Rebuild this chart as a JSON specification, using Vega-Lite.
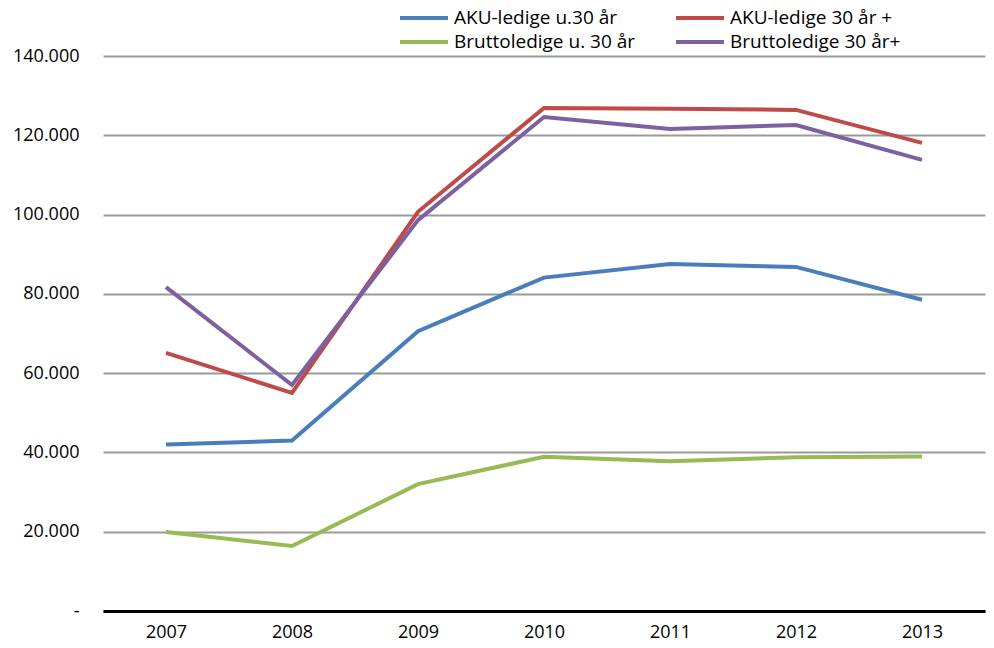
{
  "$schema": "https://vega.github.io/schema/vega-lite/v6.json",
  "width": 882,
  "height": 555,
  "autosize": {"type": "none"},
  "padding": {"left": 103, "top": 56, "right": 9, "bottom": 37},
  "config": {
    "locale": {"number": {"decimal": ",", "thousands": ".", "grouping": [3], "currency": ["", " kr"]}},
    "view": {"stroke": null},
    "font": "Open Sans"
  },
  "data": {
    "values": [
      {"year": "2007", "serie": "AKU-ledige u.30 år", "value": 42000},
      {"year": "2008", "serie": "AKU-ledige u.30 år", "value": 43000},
      {"year": "2009", "serie": "AKU-ledige u.30 år", "value": 70600},
      {"year": "2010", "serie": "AKU-ledige u.30 år", "value": 84100},
      {"year": "2011", "serie": "AKU-ledige u.30 år", "value": 87500},
      {"year": "2012", "serie": "AKU-ledige u.30 år", "value": 86800},
      {"year": "2013", "serie": "AKU-ledige u.30 år", "value": 78500},
      {"year": "2007", "serie": "AKU-ledige 30 år +", "value": 65100},
      {"year": "2008", "serie": "AKU-ledige 30 år +", "value": 55000},
      {"year": "2009", "serie": "AKU-ledige 30 år +", "value": 100700},
      {"year": "2010", "serie": "AKU-ledige 30 år +", "value": 126900},
      {"year": "2011", "serie": "AKU-ledige 30 år +", "value": 126700},
      {"year": "2012", "serie": "AKU-ledige 30 år +", "value": 126400},
      {"year": "2013", "serie": "AKU-ledige 30 år +", "value": 118100},
      {"year": "2007", "serie": "Bruttoledige u. 30 år", "value": 19900},
      {"year": "2008", "serie": "Bruttoledige u. 30 år", "value": 16400},
      {"year": "2009", "serie": "Bruttoledige u. 30 år", "value": 32000},
      {"year": "2010", "serie": "Bruttoledige u. 30 år", "value": 38900},
      {"year": "2011", "serie": "Bruttoledige u. 30 år", "value": 37800},
      {"year": "2012", "serie": "Bruttoledige u. 30 år", "value": 38800},
      {"year": "2013", "serie": "Bruttoledige u. 30 år", "value": 39000},
      {"year": "2007", "serie": "Bruttoledige 30 år+", "value": 81700},
      {"year": "2008", "serie": "Bruttoledige 30 år+", "value": 57000},
      {"year": "2009", "serie": "Bruttoledige 30 år+", "value": 98600},
      {"year": "2010", "serie": "Bruttoledige 30 år+", "value": 124600},
      {"year": "2011", "serie": "Bruttoledige 30 år+", "value": 121600},
      {"year": "2012", "serie": "Bruttoledige 30 år+", "value": 122600},
      {"year": "2013", "serie": "Bruttoledige 30 år+", "value": 113800}
    ]
  },
  "mark": {"type": "line", "strokeWidth": 4},
  "encoding": {
    "x": {
      "field": "year", "type": "ordinal",
      "scale": {"type": "point", "padding": 0.5},
      "axis": {
        "title": null, "labelAngle": 0, "ticks": false, "grid": false,
        "domainColor": "#000000", "domainWidth": 3,
        "labelFontSize": 18, "labelColor": "#000000", "labelPadding": 12
      }
    },
    "y": {
      "field": "value", "type": "quantitative",
      "scale": {"domain": [0, 140000]},
      "axis": {
        "title": null, "values": [0, 20000, 40000, 60000, 80000, 100000, 120000, 140000],
        "format": ",.0f", "labelOverlap": false,
        "labelExpr": "datum.value === 0 ? '-' : datum.label",
        "domain": false, "ticks": false,
        "gridColor": "#9a9a9a", "gridWidth": 2, "gridOpacity": 1,
        "labelFontSize": 18, "labelColor": "#000000", "labelPadding": 24
      }
    },
    "color": {
      "field": "serie", "type": "nominal",
      "scale": {
        "domain": ["AKU-ledige u.30 år", "AKU-ledige 30 år +", "Bruttoledige u. 30 år", "Bruttoledige 30 år+"],
        "range": ["#4a7ebb", "#be4b48", "#98b954", "#7d60a0"]
      },
      "legend": {
        "title": null, "orient": "none", "legendX": 307, "legendY": -52,
        "direction": "horizontal",
        "columns": 2, "columnPadding": 32, "rowPadding": 0,
        "symbolType": "M-2,0H2", "symbolSize": 576, "symbolStrokeWidth": 4,
        "labelFontSize": 19, "labelLimit": 400, "labelColor": "#000000", "labelOffset": 16
      }
    }
  }
}
